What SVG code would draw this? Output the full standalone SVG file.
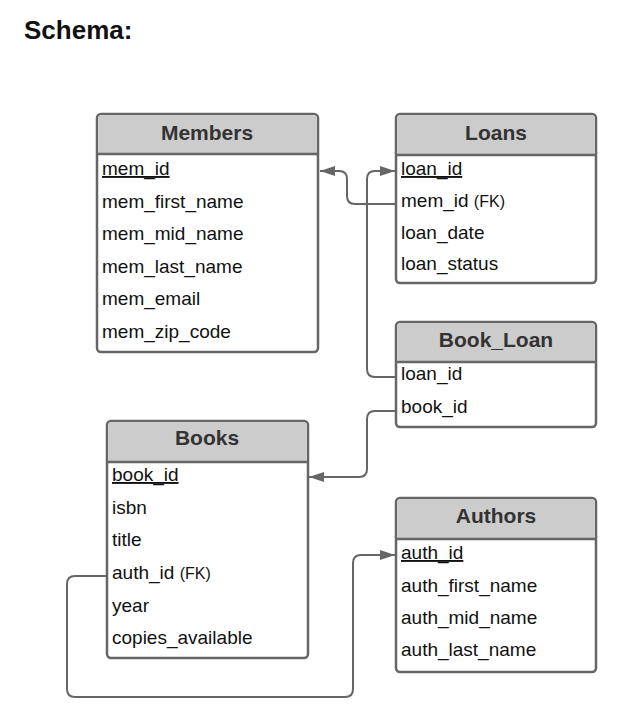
<svg xmlns="http://www.w3.org/2000/svg" width="642" height="706" viewBox="0 0 642 706">
<style>
.box{fill:#ffffff;stroke:#666666;stroke-width:2.5}
.hdr{fill:#cccccc}
.sep{stroke:#666666;stroke-width:2.5}
.ht{font-family:"Liberation Sans",Arial,sans-serif;font-weight:bold;font-size:21px;fill:#333333;text-anchor:middle}
.ft{font-family:"Liberation Sans",Arial,sans-serif;font-size:19px;fill:#111111}
.fk{font-size:16px}
.pk{text-decoration:underline}
.conn{fill:none;stroke:#666666;stroke-width:2}
</style>
<defs>
<marker id="arr" viewBox="0 0 15 10" refX="15" refY="5" markerWidth="15" markerHeight="10" markerUnits="userSpaceOnUse" orient="auto">
<path d="M0,0 L15,5 L0,10 z" fill="#666666"/>
</marker>
</defs>
<rect width="642" height="706" fill="#ffffff"/>
<text x="24" y="39" font-family="'Liberation Sans',Arial,sans-serif" font-weight="bold" font-size="26" fill="#111111">Schema:</text>

<g id="connectors">
<path class="conn" d="M396,204 H355 Q347,204 347,196 V179 Q347,171 339,171 H320" marker-end="url(#arr)"/>
<path class="conn" d="M396,377 H375 Q367,377 367,369 V179 Q367,171 375,171 H395" marker-end="url(#arr)"/>
<path class="conn" d="M396,411 H375 Q367,411 367,419 V469 Q367,477 359,477 H309" marker-end="url(#arr)"/>
<path class="conn" d="M107,576 H75 Q67,576 67,584 V689 Q67,697 75,697 H345 Q353,697 353,689 V563 Q353,555 361,555 H395" marker-end="url(#arr)"/>
</g>

<g id="members">
<rect class="box" x="97" y="114" width="221" height="238" rx="4"/>
<path class="hdr" d="M101,115.25 H314 Q316.75,115.25 316.75,118 V154 H98.25 V118 Q98.25,115.25 101,115.25 z"/>
<line class="sep" x1="97" y1="154" x2="318" y2="154"/>
<text class="ht" x="207" y="140">Members</text>
<text class="ft pk" x="102" y="175">mem_id</text>
<text class="ft" x="102" y="207.5">mem_first_name</text>
<text class="ft" x="102" y="240">mem_mid_name</text>
<text class="ft" x="102" y="272.5">mem_last_name</text>
<text class="ft" x="102" y="305">mem_email</text>
<text class="ft" x="102" y="337.5">mem_zip_code</text>
</g>

<g id="loans">
<rect class="box" x="396" y="114" width="200" height="169" rx="4"/>
<path class="hdr" d="M400,115.25 H592 Q594.75,115.25 594.75,118 V155 H397.25 V118 Q397.25,115.25 400,115.25 z"/>
<line class="sep" x1="396" y1="155" x2="596" y2="155"/>
<text class="ht" x="496" y="140">Loans</text>
<text class="ft pk" x="401" y="175">loan_id</text>
<text class="ft" x="401" y="207">mem_id <tspan class="fk">(FK)</tspan></text>
<text class="ft" x="401" y="238.5">loan_date</text>
<text class="ft" x="401" y="270">loan_status</text>
</g>

<g id="book_loan">
<rect class="box" x="396" y="322" width="200" height="105" rx="4"/>
<path class="hdr" d="M400,323.25 H592 Q594.75,323.25 594.75,326 V362 H397.25 V326 Q397.25,323.25 400,323.25 z"/>
<line class="sep" x1="396" y1="362" x2="596" y2="362"/>
<text class="ht" x="496" y="347">Book_Loan</text>
<text class="ft" x="401" y="380">loan_id</text>
<text class="ft" x="401" y="413">book_id</text>
</g>

<g id="books">
<rect class="box" x="107" y="421" width="201" height="237" rx="4"/>
<path class="hdr" d="M111,422.25 H304 Q306.75,422.25 306.75,425 V462 H108.25 V425 Q108.25,422.25 111,422.25 z"/>
<line class="sep" x1="107" y1="462" x2="308" y2="462"/>
<text class="ht" x="207" y="445">Books</text>
<text class="ft pk" x="112" y="481">book_id</text>
<text class="ft" x="112" y="513.5">isbn</text>
<text class="ft" x="112" y="546">title</text>
<text class="ft" x="112" y="579">auth_id <tspan class="fk">(FK)</tspan></text>
<text class="ft" x="112" y="611.5">year</text>
<text class="ft" x="112" y="644">copies_available</text>
</g>

<g id="authors">
<rect class="box" x="396" y="498" width="200" height="174" rx="4"/>
<path class="hdr" d="M400,499.25 H592 Q594.75,499.25 594.75,502 V539 H397.25 V502 Q397.25,499.25 400,499.25 z"/>
<line class="sep" x1="396" y1="539" x2="596" y2="539"/>
<text class="ht" x="496" y="523">Authors</text>
<text class="ft pk" x="401" y="559">auth_id</text>
<text class="ft" x="401" y="591.5">auth_first_name</text>
<text class="ft" x="401" y="623.5">auth_mid_name</text>
<text class="ft" x="401" y="656">auth_last_name</text>
</g>
</svg>
